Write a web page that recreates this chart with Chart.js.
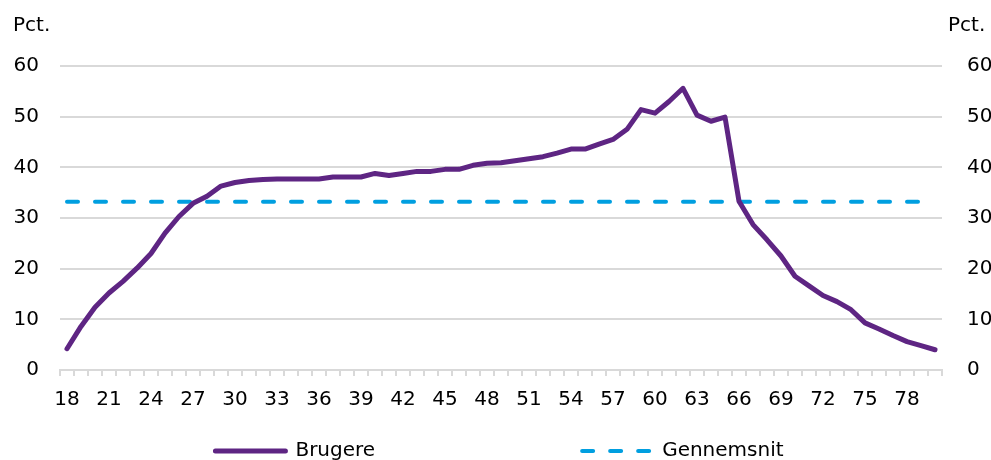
<!DOCTYPE html>
<html>
<head>
<meta charset="utf-8">
<script src="https://cdn.jsdelivr.net/npm/chart.js@4.4.1/dist/chart.umd.min.js"></script>
<style>
  html, body { margin: 0; padding: 0; background: #ffffff; }
  #c { display: block; }
</style>
</head>
<body>
<canvas id="c" width="991" height="460"></canvas>
<script>
// ---- Data ----
const ages = ['18','19','20','21','22','23','24','25','26','27','28','29','30','31','32','33','34','35','36','37','38','39','40','41','42','43','44','45','46','47','48','49','50','51','52','53','54','55','56','57','58','59','60','61','62','63','64','65','66','67','68','69','70','71','72','73','74','75','76','77','78','79','80'];
const brugere = [4.2, 8.6, 12.4, 15.2, 17.5, 20.1, 23.0, 27.0, 30.3, 32.9, 34.3, 36.3,
                 37.0, 37.4, 37.6, 37.7, 37.7, 37.7, 37.7, 38.1, 38.1, 38.1,
                 38.8, 38.4, 38.8, 39.2, 39.2, 39.6, 39.6, 40.4, 40.8, 40.9,
                 41.3, 41.7, 42.1, 42.8, 43.6, 43.6, 44.6, 45.5, 47.5, 51.4,
                 50.7, 53.0, 55.6, 50.3, 49.1, 49.9, 33.3, 28.7, 25.7, 22.5,
                 18.5, 16.6, 14.7, 13.5, 11.9, 9.3, 8.1, 6.8, 5.6, 4.8, 4.0];
const gennemsnit = 33.2;
const xTickLabels = ['18','21','24','27','30','33','36','39','42','45','48','51','54','57','60','63','66','69','72','75','78'];
const yTickValues = [0, 10, 20, 30, 40, 50, 60];
const seriesNames = ['Brugere', 'Gennemsnit'];
const unitLabel = 'Pct.';

// ---- Styling ----
const PURPLE = '#5e2583';
const BLUE = '#009fe0';
const GRID = '#d9d9d9';
const FONT = "'DejaVu Sans', Verdana, sans-serif";
const LEG_PAD = 207;
const DASH = [11, 17];

Chart.defaults.font.family = FONT;
Chart.defaults.font.size = 20;
Chart.defaults.color = '#000000';

const tweaks = {
  id: 'tweaks',
  afterLayout(chart) {
    const lg = chart.legend;
    if (lg) {
      lg.top = 451 - 10 - LEG_PAD;
      lg.bottom = 460;
      lg.left -= 96;
      lg.right += 104;
    }
  },
  afterDraw(chart) {
    const ctx = chart.ctx;
    ctx.save();
    ctx.font = '20px ' + FONT;
    ctx.fillStyle = '#000000';
    ctx.textBaseline = 'middle';
    ctx.textAlign = 'left';
    ctx.fillText(unitLabel, 13, 26);
    ctx.fillText(unitLabel, 948, 26);
    ctx.restore();
  }
};

new Chart(document.getElementById('c'), {
  type: 'line',
  data: {
    labels: ages,
    datasets: [
      {
        label: seriesNames[0],
        data: brugere,
        borderColor: PURPLE,
        backgroundColor: PURPLE,
        borderWidth: 5,
        tension: 0,
        pointRadius: 0,
        pointHoverRadius: 0,
        borderJoinStyle: 'round',
        borderCapStyle: 'round',
        fill: false
      },
      {
        label: seriesNames[1],
        data: ages.map(() => gennemsnit),
        borderColor: BLUE,
        backgroundColor: BLUE,
        borderWidth: 4,
        borderDash: DASH,
        borderCapStyle: 'round',
        tension: 0,
        pointRadius: 0,
        pointHoverRadius: 0,
        fill: false
      }
    ]
  },
  options: {
    responsive: false,
    animation: false,
    events: [],
    layout: { padding: { top: 66, left: 0, right: 0, bottom: 0 } },
    plugins: {
      title: { display: false },
      tooltip: { enabled: false },
      legend: {
        display: true,
        position: 'bottom',
        maxHeight: 40,
        labels: {
          usePointStyle: true,
          pointStyle: 'line',
          pointStyleWidth: 70,
          padding: LEG_PAD,
          color: '#000000',
          font: { size: 20, family: FONT },
          generateLabels(chart) {
            return chart.data.datasets.map((ds, i) => ({
              text: ds.label,
              datasetIndex: i,
              fillStyle: ds.borderColor,
              strokeStyle: ds.borderColor,
              fontColor: '#000000',
              lineWidth: ds.borderWidth,
              lineDash: ds.borderDash || [],
              lineDashOffset: 0,
              lineCap: 'round',
              lineJoin: 'round',
              pointStyle: 'line',
              hidden: false
            }));
          }
        }
      }
    },
    scales: {
      x: {
        type: 'category',
        offset: true,
        afterFit(s) { s.height = 50; },
        grid: {
          display: true,
          drawOnChartArea: false,
          drawTicks: true,
          tickLength: 6,
          offset: true,
          color: GRID,
          lineWidth: 2
        },
        border: { display: true, color: GRID, width: 2 },
        ticks: {
          autoSkip: false,
          maxRotation: 0,
          minRotation: 0,
          padding: 12,
          font: { size: 20, family: FONT },
          callback: function (value) {
            const l = this.getLabelForValue(value);
            return xTickLabels.includes(l) ? l : '';
          }
        }
      },
      y: {
        type: 'linear',
        position: 'left',
        min: 0,
        max: 60,
        afterFit(s) { s.width = 60; },
        afterBuildTicks(s) { s.ticks = yTickValues.map(v => ({ value: v })); },
        grid: { color: GRID, lineWidth: 2, drawTicks: false },
        border: { display: false },
        ticks: { padding: 21, font: { size: 20, family: FONT } }
      },
      y2: {
        type: 'linear',
        position: 'right',
        min: 0,
        max: 60,
        afterFit(s) { s.width = 49; },
        afterBuildTicks(s) { s.ticks = yTickValues.map(v => ({ value: v })); },
        grid: { drawOnChartArea: false, drawTicks: false, display: false },
        border: { display: false },
        ticks: { padding: 25, font: { size: 20, family: FONT } }
      }
    }
  },
  plugins: [tweaks]
});
</script>
</body>
</html>
